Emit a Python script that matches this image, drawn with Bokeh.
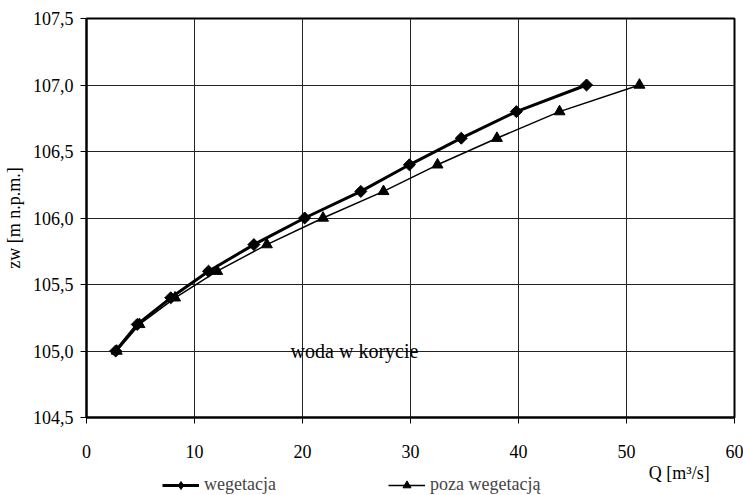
from bokeh.plotting import figure
from bokeh.layouts import column
from bokeh.models import (Legend, LegendItem, Label, FixedTicker, CustomJSTickFormatter, Range1d)
from bokeh.embed import file_html
from bokeh.resources import INLINE
import math

# Data
zw = [105.0, 105.2, 105.4, 105.6, 105.8, 106.0, 106.2, 106.4, 106.6, 106.8, 107.0]
q_wegetacja = [2.7, 4.7, 7.8, 11.3, 15.5, 20.2, 25.4, 29.9, 34.7, 39.8, 46.3]
q_poza = [2.8, 4.9, 8.2, 12.1, 16.7, 21.9, 27.5, 32.5, 38.0, 43.8, 51.2]
x_ticks = [0, 10, 20, 30, 40, 50, 60]
y_ticks = [104.5, 105.0, 105.5, 106.0, 106.5, 107.0, 107.5]

FONT = "Liberation Serif"
MAIN_H = 462
LEG_H = 495 - MAIN_H
DIAMOND = dict(marker="square", angle=math.pi / 4, size=8.5, fill_color="black", line_color="black")
DIAMOND_LEG = dict(marker="diamond", size=13, fill_color="black", line_color="black")
TRIANGLE = dict(marker="triangle", size=11, fill_color="black", line_color="black")

p = figure(width=743, height=MAIN_H, output_backend="svg", toolbar_location=None,
           x_range=Range1d(0, 60), y_range=Range1d(104.5, 107.5),
           min_border_left=86, min_border_right=9, min_border_top=18, min_border_bottom=45)
p.background_fill_color = "white"
p.border_fill_color = "white"
p.outline_line_color = "black"
p.outline_line_width = 2

p.xaxis.ticker = FixedTicker(ticks=x_ticks)
p.yaxis.ticker = FixedTicker(ticks=y_ticks)
p.yaxis.formatter = CustomJSTickFormatter(code="return tick.toFixed(1).replace('.', ',');")
for ax in (p.xaxis[0], p.yaxis[0]):
    ax.axis_line_color = "black"
    ax.axis_line_width = 2
    ax.major_tick_line_color = "black"
    ax.major_tick_out = 6
    ax.major_tick_in = 0
    ax.minor_tick_line_color = None
    ax.major_label_text_font = FONT
    ax.major_label_text_font_size = "18px"
    ax.major_label_text_color = "black"
p.xaxis.major_label_standoff = 21
p.yaxis.major_label_standoff = 7
p.yaxis.axis_label = "zw [m n.p.m.]"
p.yaxis.axis_label_text_font = FONT
p.yaxis.axis_label_text_font_style = "normal"
p.yaxis.axis_label_text_font_size = "18px"
p.yaxis.axis_label_text_color = "black"
p.yaxis.axis_label_standoff = 6

p.grid.grid_line_color = "#222222"
p.grid.grid_line_width = 1
p.xgrid.ticker = FixedTicker(ticks=x_ticks)
p.ygrid.ticker = FixedTicker(ticks=y_ticks)

p.line(q_wegetacja, zw, line_color="black", line_width=3)
p.scatter(q_wegetacja, zw, **DIAMOND)
p.line(q_poza, zw, line_color="black", line_width=1.5)
p.scatter(q_poza, zw, **TRIANGLE)

p.add_layout(Label(x=18.9, y=105.0, text="woda w korycie", text_font=FONT,
                   text_font_size="20px", text_align="left", text_baseline="alphabetic",
                   text_color="black"))

# Strip below: x-axis title and legend (series drawn out of view, used only for legend glyphs)
p2 = figure(width=743, height=LEG_H, output_backend="svg", toolbar_location=None,
            x_range=Range1d(0, 60), y_range=Range1d(0, LEG_H),
            min_border=0, min_border_left=0, min_border_right=0,
            min_border_top=0, min_border_bottom=0)
p2.axis.visible = False
p2.grid.visible = False
p2.outline_line_color = None
p2.background_fill_color = "white"
p2.border_fill_color = "white"
g1 = p2.line(q_wegetacja, zw, line_color="black", line_width=3)
h1 = p2.scatter(q_wegetacja, zw, **DIAMOND_LEG)
g2 = p2.line(q_poza, zw, line_color="black", line_width=1.5)
h2 = p2.scatter(q_poza, zw, **TRIANGLE)

p2.add_layout(Label(x=57.7, y=LEG_H - 10, text="Q [m³/s]", text_font=FONT,
                    text_font_size="18px", text_align="right", text_baseline="middle",
                    text_color="black"))

legend = Legend(items=[LegendItem(label="wegetacja", renderers=[g1, h1]),
                       LegendItem(label="poza wegetacją", renderers=[g2, h2])],
                orientation="horizontal", location=(76, 0),
                glyph_width=37, glyph_height=20, label_height=20, label_width=184,
                label_standoff=5, spacing=0, padding=0, margin=0,
                border_line_alpha=0, background_fill_alpha=0,
                label_text_font=FONT, label_text_font_size="18px",
                label_text_baseline="middle")
p2.add_layout(legend, "center")

layout = column(p, p2, spacing=0)
open("out.html", "w").write(file_html(layout, INLINE))
